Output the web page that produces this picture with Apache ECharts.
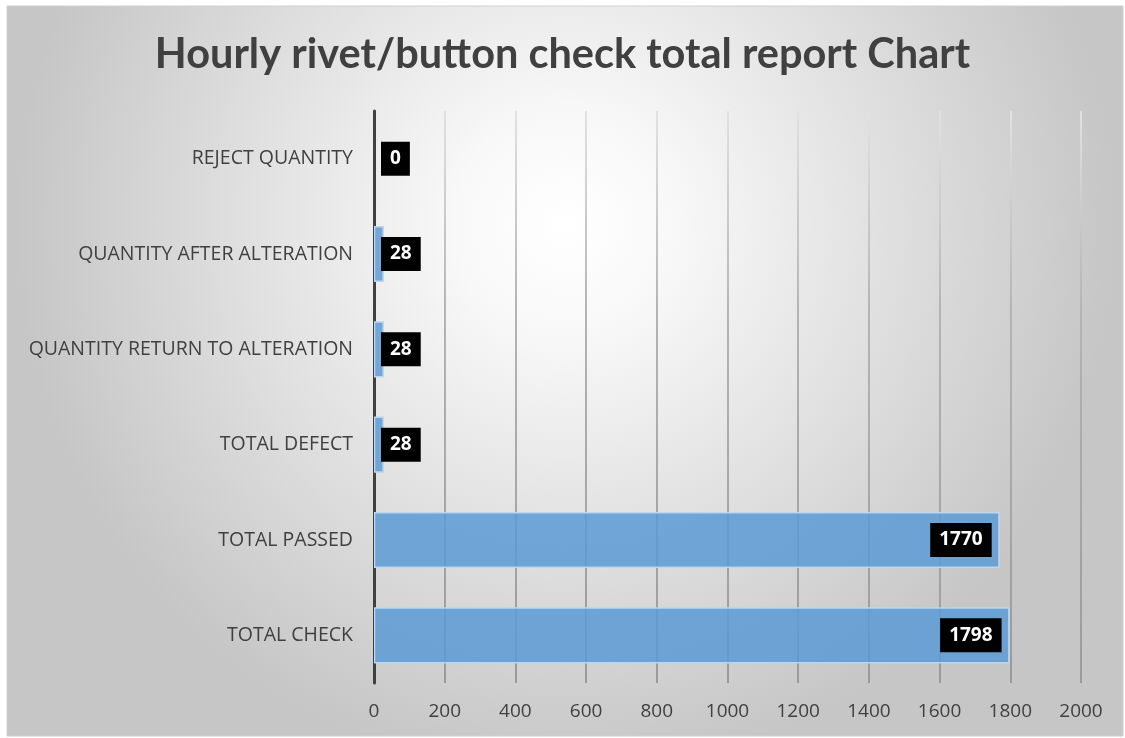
<!DOCTYPE html>
<html><head><meta charset="utf-8">
<script src="https://cdn.jsdelivr.net/npm/echarts@6/dist/echarts.min.js"></script>
<style>html,body{margin:0;padding:0;background:#fff;}#c{width:1125px;height:738px;}</style>
</head><body><div id="c"></div>
<script>
const categories = ['TOTAL CHECK','TOTAL PASSED','TOTAL DEFECT','QUANTITY RETURN TO ALTERATION','QUANTITY AFTER ALTERATION','REJECT QUANTITY'];
const values = [1798, 1770, 28, 28, 28, 0];
const titleText = 'Hourly rivet/button check total report Chart';
const axisMin = 0, axisMax = 2000, axisInterval = 200;

const chart = echarts.init(document.getElementById('c'), null, {renderer:'canvas'});
const seriesData = values.map(v => ({
  value: v,
  itemStyle: v === 0 ? {borderWidth:0} : undefined,
  label: v < 200 ? {position:'insideLeft', distance:7} : {position:'insideRight', distance:8}
}));
chart.setOption({
  animation:false,
  graphic:[{
    type:'rect', z:-10, silent:true,
    shape:{x:7, y:6, width:1116, height:730},
    style:{
      fill:{type:'radial', x:0.5, y:0.3, r:0.75, colorStops:[{offset:0,color:'#ffffff'},{offset:0.2,color:'#f8f8f8'},{offset:1,color:'#c6c6c6'}]},
      stroke:'#d0d0d0', lineWidth:1
    }
  }],
  title:{
    text:titleText, left:'center', top:29,
    textStyle:{fontFamily:'Lato', fontWeight:'bold', fontSize:41.5, color:'#404040'}
  },
  grid:{left:374, right:44, top:111, bottom:55, containLabel:false},
  xAxis:{
    type:'value', min:axisMin, max:axisMax, interval:axisInterval,
    axisLine:{show:false}, axisTick:{show:false},
    axisLabel:{fontFamily:'Open Sans', fontSize:19, color:'#404040', margin:19, formatter: v => String(v)},
    splitLine:{show:true, lineStyle:{width:2,
      color:{type:'linear', x:0, y:111, x2:0, y2:683, global:true,
        colorStops:[{offset:0,color:'#e2e2e2'},{offset:0.35,color:'#b4b4b4'},{offset:1,color:'#9a9a9a'}]}}}
  },
  yAxis:{
    type:'category', data:categories,
    axisLine:{show:true, lineStyle:{color:'#404040', width:3}},
    axisTick:{show:false},
    axisLabel:{fontFamily:'Open Sans', fontSize:19.5, color:'#404040', margin:21, padding:[4,0,0,0]}
  },
  series:[{
    type:'bar', data:seriesData, barWidth:'59%',
    itemStyle:{color:'rgba(91,155,213,0.85)', borderColor:'#bcd6ee', borderWidth:1.5},
    label:{show:true, color:'#ffffff', fontFamily:'Open Sans', fontWeight:'bold', fontSize:19,
      backgroundColor:'#000000', padding:[8,9,7,9]}
  }]
});
</script></body></html>
